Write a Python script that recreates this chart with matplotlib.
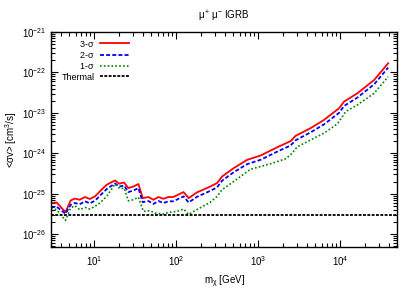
import numpy as np
import matplotlib
matplotlib.use("Agg")
import matplotlib.pyplot as plt
from matplotlib.ticker import FixedLocator, NullFormatter

plt.rcParams['font.family'] = ['Liberation Sans', 'DejaVu Sans']
plt.rcParams['mathtext.fontset'] = 'custom'
plt.rcParams['mathtext.rm'] = 'Liberation Sans'
plt.rcParams['mathtext.it'] = 'Liberation Sans'
plt.rcParams['mathtext.sf'] = 'Liberation Sans'

# masses (GeV) and cross-section limits (cm^3/s)
mass = [3.0, 3.5, 4.5, 5.2, 5.85, 6.7, 7.8, 8.9, 10.3, 11.8, 14.3, 18.1, 20.4,
        23.3, 26.3, 30.3, 34.9, 39.4, 46.2, 53.2, 61.3, 70.5, 81, 93, 124,
        143, 181, 263, 318, 366, 507, 740, 1076, 1722, 2506, 2885, 4403,
        6412, 9780, 11250, 16400, 26200, 38900]
sigma3 = [5.9e-26, 6.1e-26, 3.5e-26, 6.8e-26, 7.6e-26, 7.1e-26, 8.3e-26,
          7.4e-26, 8.6e-26, 1.14e-25, 1.67e-25, 2.13e-25, 1.77e-25, 1.9e-25,
          1.38e-25, 1.51e-25, 1.74e-25, 7.8e-26, 8.3e-26, 7.1e-26, 8.3e-26,
          7.5e-26, 8.3e-26, 8.3e-26, 1.1e-25, 7.8e-26, 1.08e-25, 1.51e-25,
          1.84e-25, 2.67e-25, 4.3e-25, 6.9e-25, 8.8e-25, 1.41e-24, 2.0e-24,
          2.7e-24, 4.2e-24, 6.7e-24, 1.3e-23, 1.9e-23, 3.06e-23, 6.5e-23,
          1.69e-22]
sigma2 = [4.6e-26, 4.8e-26, 3.2e-26, 5.3e-26, 5.9e-26, 5.5e-26, 6.5e-26,
          5.8e-26, 6.7e-26, 8.9e-26, 1.3e-25, 1.8e-25, 1.5e-25, 1.6e-25,
          1.1e-25, 1.2e-25, 1.38e-25, 6.2e-26, 6.6e-26, 5.6e-26, 6.6e-26,
          5.9e-26, 6.5e-26, 6.5e-26, 8.6e-26, 6.1e-26, 8.4e-26, 1.18e-25,
          1.44e-25, 2.1e-25, 3.4e-25, 5.4e-25, 6.9e-25, 1.1e-24, 1.56e-24,
          2.1e-24, 3.3e-24, 5.2e-24, 1.0e-23, 1.48e-23, 2.4e-23, 5.1e-23,
          1.32e-22]

mass1 = [3.0, 3.5, 4.5, 5.2, 5.85, 6.7, 7.8, 8.9, 10.3, 11.8, 14.3, 18.1,
         20.8, 23.3, 26.3, 30.3, 34.9, 40.1, 48.5, 55.8, 70.5, 81, 103, 124,
         143, 181, 263, 318, 366, 507, 811, 1426, 2177, 2506, 3027, 6412,
         9335, 11810, 16400, 26200, 38900]
sigma1 = [4.44e-26, 4.03e-26, 2.19e-26, 4.44e-26, 5.06e-26, 4.03e-26,
          4.59e-26, 4.19e-26, 4.85e-26, 5.89e-26, 8.57e-26, 1.74e-25,
          1.33e-25, 1.38e-25, 6.71e-26, 7.11e-26, 8.2e-26, 3.66e-26, 3.8e-26,
          3.33e-26, 3.15e-26, 3.45e-26, 3.66e-26, 4.19e-26, 3.08e-26,
          4.07e-26, 6.17e-26, 8.57e-26, 1.26e-25, 2.01e-25, 4.03e-25,
          5.5e-25, 7.31e-25, 9.18e-25, 1.45e-24, 3.15e-24, 5.35e-24,
          1.08e-23, 1.58e-23, 3.06e-23, 7.87e-23]

thermal = 3e-26
xlim = (3, 5e4)
ylim = (4.8e-27, 1e-21)
yticks = [1e-26, 1e-25, 1e-24, 1e-23, 1e-22, 1e-21]
xticks = [1e1, 1e2, 1e3, 1e4]

fig = plt.figure(figsize=(4.15, 2.91), dpi=100)
ax = fig.add_axes([0.123, 0.151, 0.834, 0.739])

ax.plot(mass, sigma3, color='#ff0000', lw=1.3, label='3-$\\sigma$')
ax.plot(mass, sigma2, color='#0000ff', lw=1.3, ls=(0, (2.2, 1.2)), label='2-$\\sigma$')
ax.plot(mass1, sigma1, color='#008000', lw=1.2, ls=(0, (1, 1.3)), label='1-$\\sigma$')
ax.plot(xlim, [thermal, thermal], color='black', lw=1.3, ls=(0, (1.6, 0.8)), label='Thermal')

ax.set_xscale('log')
ax.set_yscale('log')
ax.set_xlim(*xlim)
ax.set_ylim(*ylim)

ax.set_yticks(yticks)
ax.set_xticks(xticks)
yminor = [k * 10.0**e for e in range(-27, -21) for k in range(2, 10)]
ax.yaxis.set_minor_locator(FixedLocator([v for v in yminor if ylim[0] <= v <= ylim[1]]))
xminor = [k * 10.0**e for e in range(0, 5) for k in range(2, 10)]
ax.xaxis.set_minor_locator(FixedLocator([v for v in xminor if xlim[0] <= v <= xlim[1]]))
ax.yaxis.set_minor_formatter(NullFormatter())
ax.xaxis.set_minor_formatter(NullFormatter())

ax.tick_params(which='both', direction='in', top=True, right=True, labelsize=7, width=0.8)
ax.tick_params(which='major', length=5)
ax.tick_params(which='minor', length=3)
ax.tick_params(axis='x', pad=5)
for s in ax.spines.values():
    s.set_linewidth(1.0)

ax.set_title('$\\mu^{+}$ $\\mu^{-}$ IGRB', fontsize=7, pad=9)
ax.set_xlabel('m$_{\\chi}$ [GeV]', fontsize=7, labelpad=4)
ax.set_ylabel('<$\\sigma$v> [cm$^{3}$/s]', fontsize=7, labelpad=2)

ax.legend(loc='upper left', bbox_to_anchor=(0.015, 0.995), frameon=False,
          markerfirst=False, fontsize=6.5, handlelength=3.2, handletextpad=0.6,
          labelspacing=0.15, borderaxespad=0.2)

fig.savefig('out.png', dpi=100)
